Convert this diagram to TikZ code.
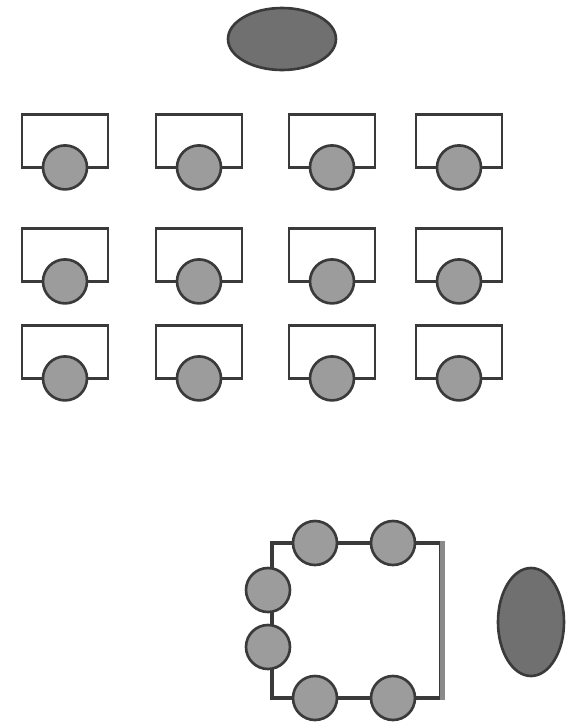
\documentclass[tikz,border=0pt]{standalone}
\usepackage{tikz}
\usetikzlibrary{shapes.geometric, positioning, calc}

\definecolor{lineGray}{HTML}{3A3A3A}
\definecolor{seatGray}{HTML}{9C9C9C}
\definecolor{headGray}{HTML}{707070}
\definecolor{edgeGray}{HTML}{8A8A8A}

\tikzset{
  desk/.style={draw=lineGray, line width=1.6pt, fill=white, rectangle,
    minimum width=1.72cm, minimum height=1.06cm, inner sep=0pt},
  seat/.style={draw=lineGray, line width=1.5pt, fill=seatGray, circle,
    minimum size=0.88cm, inner sep=0pt},
  head/.style={draw=lineGray, line width=1.5pt, fill=headGray, ellipse, inner sep=0pt},
  meeting/.style={draw=lineGray, line width=1.8pt, rectangle,
    minimum width=3.38cm, minimum height=3.1cm, inner sep=0pt}
}

\begin{document}
\begin{tikzpicture}[x=0.02cm, y=-0.02cm]
  \useasboundingbox[fill=white] (0,0) rectangle (568,728);

  % === Salle de classe (haut) ===
  \node[head, minimum width=2.16cm, minimum height=1.24cm] (teacher) at (282,39) {};

  \foreach \r/\y in {1/141, 2/255, 3/352}{
    \foreach \c/\x in {1/65, 2/199, 3/332, 4/459}{
      \node[desk] (desk-\r-\c) at (\x,\y) {};
      \node[seat] (chair-\r-\c) at ($(desk-\r-\c.south)+(0,-1.5)$) {};
    }
  }

  % === Table de réunion (bas) ===
  \node[meeting] (table) at (356.5,620.5) {};
  \draw[edgeGray, line width=3pt] (table.north east) -- (table.south east);

  % sièges autour de la table
  \node[seat] (top-1) at (315,543) {};
  \node[seat] (top-2) at (393,543) {};
  \node[seat] (side-1) at (268,590) {};
  \node[seat] (side-2) at (268,647) {};
  \node[seat] (bottom-1) at (315,698) {};
  \node[seat] (bottom-2) at (393,698) {};

  \node[head, minimum width=1.32cm, minimum height=2.16cm] (host) at (531,622) {};
\end{tikzpicture}
\end{document}
